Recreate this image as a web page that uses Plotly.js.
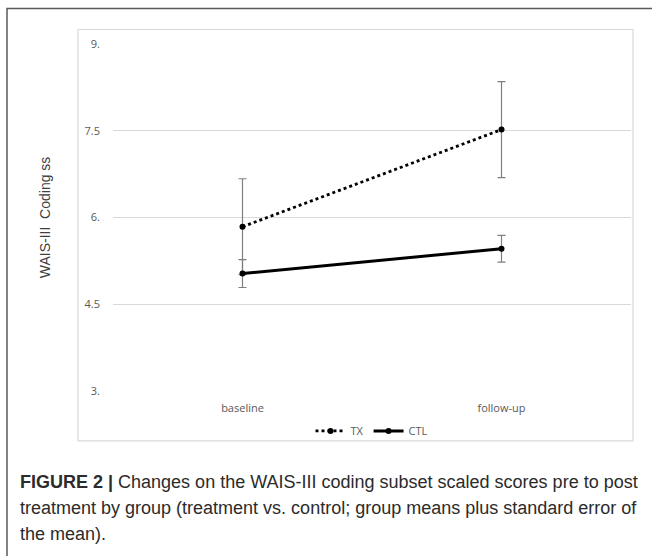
<!DOCTYPE html>
<html>
<head>
<meta charset="utf-8">
<script src="https://cdn.plot.ly/plotly-3.0.1.min.js"></script>
<style>
html,body{margin:0;padding:0;background:#fff;}
#chart{width:652px;height:556px;}
</style>
</head>
<body>
<div id="chart"></div>
<script>
// ---- data ----
const categories = ["baseline", "follow-up"];
const txMeans = [5.84, 7.52];
const txSE = [0.83, 0.83];
const ctlMeans = [5.03, 5.46];
const ctlSE = [0.24, 0.23];
const yTickVals = [3, 4.5, 6, 7.5, 9];
const yTickText = ["3.", "4.5", "6.", "7.5", "9."];
const seriesNames = ["TX", "CTL"];
const yTitle = "WAIS-III&nbsp;&nbsp;Coding ss";
const captionLines = [
  "<b>FIGURE 2 |</b> Changes on the WAIS-III coding subset scaled scores pre to post",
  "treatment by group (treatment vs. control; group means plus standard error of",
  "the mean)."
];

// ---- layout helpers (pixel -> paper) ----
const W = 652, H = 556;
const L = 113, R = 631, T = 43.5, B = 391;
const px = v => (v - L) / (R - L);
const py = v => (B - v) / (B - T);

const errStyle = {type: "data", visible: true, color: "#7f7f7f", thickness: 1.2, width: 4};

const traces = [
  {
    x: categories, y: txMeans, name: seriesNames[0], type: "scatter", mode: "lines+markers",
    line: {color: "#000", width: 2.8, dash: "dot"},
    marker: {color: "#000", size: 6, symbol: "circle"},
    error_y: Object.assign({array: txSE}, errStyle)
  },
  {
    x: categories, y: ctlMeans, name: seriesNames[1], type: "scatter", mode: "lines+markers",
    line: {color: "#000", width: 3},
    marker: {color: "#000", size: 6, symbol: "circle"},
    error_y: Object.assign({array: ctlSE}, errStyle)
  }
];

const capFont = {family: "Liberation Sans, Arial, sans-serif", size: 18, color: "#2b2b2b"};
const annotations = [
  {
    xref: "paper", yref: "paper", x: px(45), y: py(217), text: yTitle, textangle: -90,
    showarrow: false, xanchor: "center", yanchor: "middle",
    font: {family: "Liberation Sans, Arial, sans-serif", size: 14, color: "#404040"}
  }
];
captionLines.forEach((t, i) => {
  annotations.push({
    xref: "paper", yref: "paper", x: px(18), y: py(482 + i * 26), text: t,
    showarrow: false, xanchor: "left", yanchor: "middle", align: "left", font: capFont
  });
});

const layout = {
  width: W, height: H,
  margin: {l: L, r: W - R, t: T, b: H - B, pad: 0},
  paper_bgcolor: "#fff", plot_bgcolor: "#fff",
  showlegend: true,
  legend: {
    orientation: "h", x: 0.5, xanchor: "center", y: py(431), yanchor: "middle",
    font: {family: "Open Sans, sans-serif", size: 11, color: "#595959"},
    bgcolor: "rgba(0,0,0,0)", itemwidth: 30, tracegroupgap: 0
  },
  xaxis: {
    type: "category", range: [-0.5, 1.5], showgrid: false, zeroline: false, showline: false,
    ticks: "", ticklabelstandoff: 9,
    tickfont: {family: "Open Sans, sans-serif", size: 11, color: "#595959"}
  },
  yaxis: {
    range: [3, 9], tickvals: yTickVals, ticktext: yTickText, showgrid: true,
    gridcolor: "#d9d9d9", gridwidth: 1, zeroline: false, showline: false, ticks: "",
    ticklabelstandoff: 12,
    tickfont: {family: "Open Sans, sans-serif", size: 11, color: "#595959"}
  },
  shapes: [
    {type: "rect", xref: "paper", yref: "paper", x0: px(7), x1: px(670), y0: py(8), y1: py(580),
     line: {color: "#5a5a5a", width: 1.5}, fillcolor: "rgba(0,0,0,0)", layer: "above"},
    {type: "rect", xref: "paper", yref: "paper", x0: px(78), x1: px(633), y0: py(29), y1: py(441),
     line: {color: "#d9d9d9", width: 1.2}, fillcolor: "rgba(0,0,0,0)", layer: "below"}
  ],
  annotations: annotations
};

Plotly.newPlot("chart", traces, layout, {displayModeBar: false, staticPlot: true});
</script>
</body>
</html>
